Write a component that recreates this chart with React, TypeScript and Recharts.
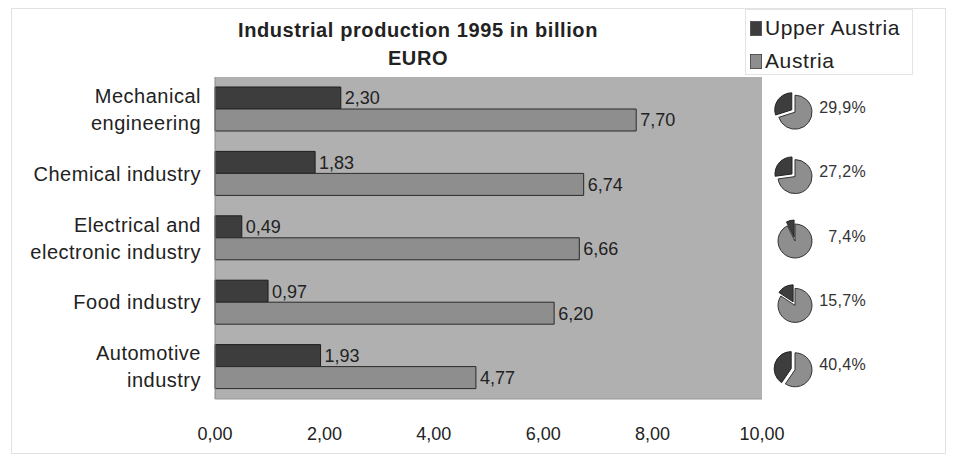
import React from "react";
import { BarChart, Bar, XAxis, YAxis, CartesianGrid, LabelList, PieChart, Pie, Cell } from "recharts";

const categories = ["Mechanical engineering", "Chemical industry", "Electrical and electronic industry", "Food industry", "Automotive industry"];
const categoryLines = [["Mechanical", "engineering"], ["Chemical industry"], ["Electrical and", "electronic industry"], ["Food industry"], ["Automotive", "industry"]];
const upperAustria = [2.3, 1.83, 0.49, 0.97, 1.93];
const austria = [7.7, 6.74, 6.66, 6.2, 4.77];
const xTicks = [0, 2, 4, 6, 8, 10];
const shareLabels = ["29,9%", "27,2%", "7,4%", "15,7%", "40,4%"];
const seriesNames = ["Upper Austria", "Austria"];
const titleLines = ["Industrial production 1995 in billion", "EURO"];

const W = 954;
const H = 459;
const PLOT_TOP = 77;
const PLOT_BOTTOM = 399;
const PLOT_LEFT = 215;
const PLOT_RIGHT = 762;
const DARK = "#3d3d3d";
const LIGHT = "#8e8e8e";
const BG = "#b0b0b0";
const FONT = "'Liberation Sans', Arial, sans-serif";

const data = categories.map((c, i) => ({ name: c, upper: upperAustria[i], austria: austria[i] }));
const fmt = (v: number) => v.toFixed(2).replace(".", ",");

const YTick = (props: any) => {
  const { x, y, payload } = props;
  const idx = categories.indexOf(payload.value);
  const lines = categoryLines[idx] || [payload.value];
  const spacing = 27;
  const start = -((lines.length - 1) * spacing) / 2;
  return (
    <g>
      {lines.map((l, k) => (
        <text key={k} x={x - 6} y={y + start + k * spacing} textAnchor="end" dominantBaseline="central" fontSize={20} letterSpacing={0.5} fill="#222" fontFamily={FONT}>
          {l}
        </text>
      ))}
    </g>
  );
};

export default function App() {
  const band = (PLOT_BOTTOM - PLOT_TOP) / categories.length;
  const pieCx = 790;
  const R = 17;
  const explode = 4;
  return (
    <div style={{ position: "absolute", left: 0, top: 0, width: W, height: H, background: "#fff", fontFamily: FONT }}>
      <div style={{ position: "absolute", left: 11, top: 8, width: 933, height: 444, border: "1px solid #e2e2e2" }} />
      <BarChart
        width={W}
        height={H}
        data={data}
        layout="vertical"
        margin={{ top: PLOT_TOP, right: W - PLOT_RIGHT, bottom: 0, left: PLOT_LEFT - 200 }}
        barGap={0}
        barSize={22}
      >
        <CartesianGrid fill={BG} stroke="none" horizontal={false} vertical={false} />
        <XAxis
          type="number"
          domain={[0, 10]}
          ticks={xTicks}
          height={H - PLOT_BOTTOM}
          tickFormatter={fmt}
          axisLine={{ stroke: "#999" }}
          tickLine={false}
          tick={{ fontSize: 18, fill: "#222", fontFamily: FONT, dy: 20 }}
          interval={0}
        />
        <YAxis type="category" dataKey="name" width={200} tick={<YTick />} tickLine={false} axisLine={{ stroke: "#888" }} interval={0} />
        <Bar dataKey="upper" fill={DARK} stroke="#1e1e1e" strokeWidth={1} isAnimationActive={false}>
          <LabelList dataKey="upper" position="right" offset={4} formatter={(v: any) => fmt(Number(v))} style={{ fontSize: 18, fill: "#222", fontFamily: FONT }} />
        </Bar>
        <Bar dataKey="austria" fill={LIGHT} stroke="#2a2a2a" strokeWidth={1} isAnimationActive={false}>
          <LabelList dataKey="austria" position="right" offset={4} formatter={(v: any) => fmt(Number(v))} style={{ fontSize: 18, fill: "#222", fontFamily: FONT }} />
        </Bar>
      </BarChart>

      <div style={{ position: "absolute", left: 0, top: 0, pointerEvents: "none" }}>
        <PieChart width={W} height={H}>
          {categories.map((c, i) => {
            const share = upperAustria[i];
            const rest = austria[i] - upperAustria[i];
            const cy = PLOT_TOP + band * (i + 0.5) - 2;
            const mid = ((90 + (share / austria[i]) * 180) * Math.PI) / 180;
            const dx = explode * Math.cos(mid);
            const dy = -explode * Math.sin(mid);
            const pd = [
              { name: seriesNames[0], value: share },
              { name: seriesNames[1], value: rest },
            ];
            return [
              <Pie
                key={"l" + i}
                data={pd}
                dataKey="value"
                cx={pieCx}
                cy={cy}
                outerRadius={R}
                startAngle={90}
                endAngle={450}
                isAnimationActive={false}
                labelLine={false}
                label={(p: any) =>
                  p.index === 1 ? (
                    <text x={866} y={cy} textAnchor="end" dominantBaseline="central" fontSize={16} letterSpacing={0.3} fill="#333" fontFamily={FONT}>
                      {shareLabels[i]}
                    </text>
                  ) : null
                }
              >
                <Cell fill="none" stroke="none" />
                <Cell fill={LIGHT} stroke="#333" strokeWidth={1} />
              </Pie>,
              <Pie
                key={"d" + i}
                data={pd}
                dataKey="value"
                cx={pieCx + dx}
                cy={cy + dy}
                outerRadius={R}
                startAngle={90}
                endAngle={450}
                isAnimationActive={false}
                labelLine={false}
              >
                <Cell fill={DARK} stroke="#222" strokeWidth={1} />
                <Cell fill="none" stroke="none" />
              </Pie>,
            ];
          })}
        </PieChart>
      </div>

      <div style={{ position: "absolute", left: 168, top: 16, width: 500, textAlign: "center", fontWeight: "bold", fontSize: 20, letterSpacing: 0.6, lineHeight: "28px", color: "#222" }}>
        {titleLines.map((t, k) => (
          <div key={k}>{t}</div>
        ))}
      </div>

      <div style={{ position: "absolute", left: 745, top: 9, width: 168, height: 66, border: "1px solid #e4e4e4", boxSizing: "border-box" }}>
        {seriesNames.map((s, k) => (
          <div key={k} style={{ position: "absolute", left: 4, top: 5 + k * 33, height: 26, display: "flex", alignItems: "center", fontSize: 21, letterSpacing: 0.6, color: "#222", whiteSpace: "nowrap" }}>
            <span style={{ display: "inline-block", width: 10, height: 13, background: k === 0 ? DARK : LIGHT, border: "1px solid #555", marginRight: 3 }} />
            {s}
          </div>
        ))}
      </div>
    </div>
  );
}
